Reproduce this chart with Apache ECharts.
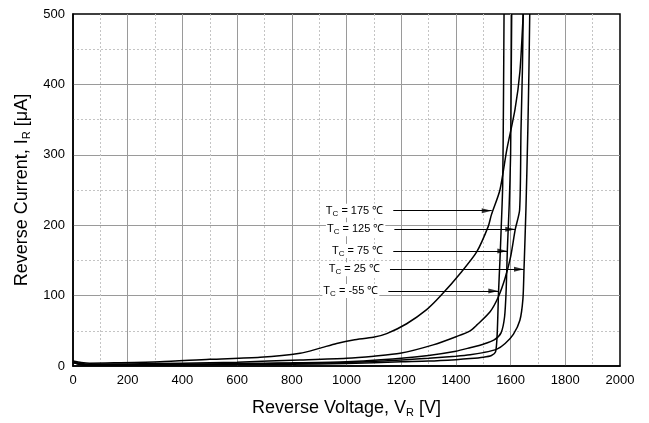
<!DOCTYPE html>
<html>
<head>
<meta charset="utf-8">
<script src="https://cdn.jsdelivr.net/npm/echarts@6/dist/echarts.min.js"></script>
<style>
html,body{margin:0;padding:0;background:#fff;}
#c{width:649px;height:423px;}
</style>
</head>
<body>
<div id="c"></div>
<script>
// ---- data ----
const v175 = [0,30,60,150,318,500,684,830,900,964,1025,1098,1147,1220,1293,1345,1421,1476,1518,1530,1561,1586,1616,1634,1646];
const i175 = [7,5,4,4.5,6,9.5,12.3,18,25,32,37,40.7,46,60,80,100,134,162,198,215,250,307,364,418,500];

const v125 = [0,30,60,200,400,600,830,1000,1100,1196,1317,1403,1452,1476,1525,1555,1580,1600,1617,1633,1638,1643,1646];
const i125 = [6,3.5,2.5,3,4,5.5,8.5,11,14,18,30,42,50,58,77,98,125,155,194,222,335,418,500];

const v75 = [0,30,60,200,400,600,800,1000,1200,1300,1400,1452,1500,1540,1565,1578,1584,1588,1595,1600,1602,1604];
const i75 = [5.5,2.5,1.5,2,2.5,3.5,4.5,6,11,15,21,26,31,37,47,70,110,164,230,300,400,500];

const v25 = [0,30,60,200,400,600,800,1000,1200,1300,1400,1452,1500,1550,1580,1610,1634,1645,1649,1656,1663,1667,1670];
const i25 = [5,2,1.2,1.5,2,2.8,3.8,5,8.5,11,14,16,19,24,32,45,65,95,137,222,335,420,500];

const vm55 = [0,30,60,200,400,600,800,1000,1200,1300,1400,1452,1500,1530,1545,1551,1556,1561,1566,1571,1574,1576];
const im55 = [5,2,1,1,1.5,2,2.5,3.5,6,7,9,10.5,12.5,15,20,46,106,150,200,255,380,500];

const tempLabels = ['175', '125', '75', '25', '-55'];
const arrowStartV = [1171, 1175, 1171, 1159, 1153];
const arrowTipV = [1531, 1617, 1588, 1649, 1555];
const arrowI = [220.6, 194.2, 163.4, 137.4, 106.5];

const xTicks = [0,200,400,600,800,1000,1200,1400,1600,1800,2000];
const yTicks = [0,100,200,300,400,500];

// ---- chart ----
const FONT = 'Liberation Sans, Arial, sans-serif';
function pairs(v, i){ return v.map((x, k) => [x, i[k]]); }
const curves = [[v175,i175],[v125,i125],[v75,i75],[v25,i25],[vm55,im55]];

const series = curves.map(c => ({
  type: 'line',
  data: pairs(c[0], c[1]),
  showSymbol: false,
  symbol: 'none',
  smooth: 0.25,
  clip: true,
  z: 3,
  lineStyle: { color: '#000', width: 1.5 }
}));

// arrow shafts + labels
series.push({
  type: 'line',
  data: [],
  z: 4,
  markLine: {
    silent: true,
    animation: false,
    symbol: ['none', 'none'],
    lineStyle: { color: '#000', width: 1, type: 'solid' },
    label: {
      show: true,
      position: 'start',
      distance: 9,
      color: '#000',
      fontFamily: FONT,
      fontSize: 11,
      backgroundColor: '#fff',
      padding: [0, 1, 0, 1],
      rich: {
        s: { fontSize: 8, fontFamily: FONT, color: '#000', padding: [6, 0, 0, 0] }
      }
    },
    data: tempLabels.map((t, k) => [
      { coord: [arrowStartV[k], arrowI[k]], label: { formatter: 'T{s|C} = ' + t + ' ℃' } },
      { coord: [arrowTipV[k], arrowI[k]] }
    ])
  }
});

// arrow heads
series.push({
  type: 'scatter',
  z: 5,
  silent: true,
  data: arrowTipV.map((v, k) => [v, arrowI[k]]),
  symbol: 'path://M0,0 L10,2.5 L0,5 Z',
  symbolSize: [10, 5],
  symbolOffset: [-5, 0],
  itemStyle: { color: '#000' }
});

const chart = echarts.init(document.getElementById('c'), null, { renderer: 'canvas' });
chart.setOption({
  animation: false,
  backgroundColor: '#fff',
  grid: { left: 73, right: 29, top: 14, bottom: 57, show: true, borderColor: '#000', borderWidth: 1.5, backgroundColor: 'transparent' },
  xAxis: {
    type: 'value', min: xTicks[0], max: xTicks[xTicks.length-1], interval: xTicks[1]-xTicks[0],
    axisLine: { show: true, onZero: false, lineStyle: { color: '#000', width: 1.5 } },
    axisTick: { show: false },
    axisLabel: { color: '#000', fontSize: 13, fontFamily: FONT, margin: 8, formatter: v => String(v) },
    splitLine: { show: true, showMinLine: false, showMaxLine: false, lineStyle: { color: '#9a9a9a', width: 1 } },
    minorTick: { show: false, splitNumber: 2 },
    minorSplitLine: { show: true, lineStyle: { color: '#c4c4c4', width: 1, type: [2, 2] } },
    name: 'Reverse Voltage, V{s|R} [V]',
    nameLocation: 'middle',
    nameGap: 32,
    nameTextStyle: { color: '#000', fontSize: 18, fontFamily: FONT, rich: { s: { fontSize: 11, fontFamily: FONT, color: '#000', padding: [9, 0, 0, 0] } } }
  },
  yAxis: {
    type: 'value', min: yTicks[0], max: yTicks[yTicks.length-1], interval: yTicks[1]-yTicks[0],
    axisLine: { show: true, onZero: false, lineStyle: { color: '#000', width: 1.5 } },
    axisTick: { show: false },
    axisLabel: { color: '#000', fontSize: 13, fontFamily: FONT, margin: 8, formatter: v => String(v) },
    splitLine: { show: true, showMinLine: false, showMaxLine: false, lineStyle: { color: '#9a9a9a', width: 1 } },
    minorTick: { show: false, splitNumber: 2 },
    minorSplitLine: { show: true, lineStyle: { color: '#c4c4c4', width: 1, type: [2, 2] } },
    name: 'Reverse Current, I{s|R} [μA]',
    nameLocation: 'middle',
    nameRotate: 90,
    nameGap: 41,
    nameTextStyle: { color: '#000', fontSize: 18, fontFamily: FONT, rich: { s: { fontSize: 11, fontFamily: FONT, color: '#000', padding: [9, 0, 0, 0] } } }
  },
  series: series
});
</script>
</body>
</html>
